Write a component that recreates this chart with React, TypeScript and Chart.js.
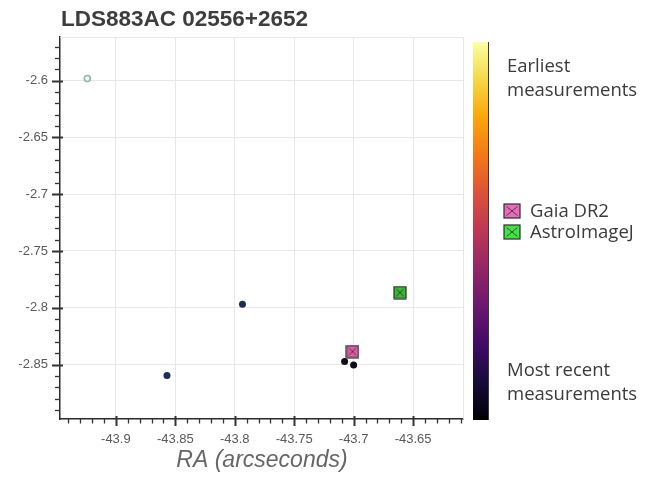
import { useEffect, useRef } from "react";
import { Chart, registerables } from "chart.js";

Chart.register(...registerables);

// ---- data (arcseconds) ----
const raEarliest = [-43.924];
const decEarliest = [-2.598];
const raMiddle = [-43.857, -43.7935];
const decMiddle = [-2.8597, -2.797];
const raRecent = [-43.7076, -43.7];
const decRecent = [-2.8474, -2.8505];
const raGaia = [-43.701];
const decGaia = [-2.8386];
const raAIJ = [-43.661];
const decAIJ = [-2.7866];

// ---- axes ----
const xMin = -43.947;
const xMax = -43.608;
const yMin = -2.898;
const yMax = -2.5615;
const majorStep = 0.05;
const minorStep = 0.01;

// ---- texts ----
const titleText = "LDS883AC 02556+2652";
const xTitle = "RA (arcseconds)";
const legendLabels = ["Gaia DR2", "AstroImageJ"];
const markerColors = ["#dc5ea3", "#33bb33"];
const legendColors = ["#e86cbc", "#45e445"];
const topLabel = ["Earliest", "measurements"];
const bottomLabel = ["Most recent", "measurements"];

// inferno colormap stops (bottom -> top)
const infernoStops = [
  "#000004", "#160b39", "#420a68", "#6a176e", "#932667", "#bc3754",
  "#dd513a", "#f37819", "#fca50a", "#f6d746", "#fcffa4",
];

const pts = (xs: number[], ys: number[]) => xs.map((x, i) => ({ x, y: ys[i] }));

function makeBoxX(fill: string, w: number, h: number): HTMLCanvasElement {
  const c = document.createElement("canvas");
  c.width = w;
  c.height = h;
  const g = c.getContext("2d")!;
  g.fillStyle = fill;
  g.fillRect(1, 1, w - 2, h - 2);
  g.strokeStyle = "#2b2b2b";
  g.lineWidth = 1.2;
  g.strokeRect(1, 1, w - 2, h - 2);
  g.beginPath();
  g.moveTo(3.5, 3.5);
  g.lineTo(w - 3.5, h - 3.5);
  g.moveTo(w - 3.5, 3.5);
  g.lineTo(3.5, h - 3.5);
  g.strokeStyle = "rgba(40,40,40,0.75)";
  g.lineWidth = 1;
  g.stroke();
  return c;
}

const fmt = (v: number) => String(Number(v.toFixed(2)));

export default function App() {
  const ref = useRef<HTMLCanvasElement>(null);

  useEffect(() => {
    document.body.style.margin = "0";
    const gaiaImg = makeBoxX(markerColors[0], 14, 14);
    const aijImg = makeBoxX(markerColors[1], 14, 14);

    const deco = {
      id: "deco",
      afterDraw(chart: any) {
        const ctx = chart.ctx as CanvasRenderingContext2D;
        const a = chart.chartArea;
        const xs = chart.scales.x;
        const ys = chart.scales.y;
        ctx.save();

        // faint frame top/right
        ctx.strokeStyle = "#e6e6e6";
        ctx.lineWidth = 1;
        ctx.beginPath();
        ctx.moveTo(a.left, a.top + 0.5);
        ctx.lineTo(a.right + 0.5, a.top + 0.5);
        ctx.lineTo(a.right + 0.5, a.bottom);
        ctx.stroke();

        // ticks
        ctx.strokeStyle = "#333";
        const k0 = Math.ceil(xs.min / minorStep - 1e-6);
        const k1 = Math.floor(xs.max / minorStep + 1e-6);
        for (let k = k0; k <= k1; k++) {
          const major = Math.abs(k % 5) === 0;
          const px = Math.round(xs.getPixelForValue(k * minorStep)) + 0.5;
          ctx.lineWidth = major ? 2 : 1.3;
          ctx.beginPath();
          ctx.moveTo(px, a.bottom - (major ? 3 : 0));
          ctx.lineTo(px, a.bottom + (major ? 7 : 4.5));
          ctx.stroke();
        }
        const j0 = Math.ceil(ys.min / minorStep - 1e-6);
        const j1 = Math.floor(ys.max / minorStep + 1e-6);
        for (let k = j0; k <= j1; k++) {
          const major = Math.abs(k % 5) === 0;
          const py = Math.round(ys.getPixelForValue(k * minorStep)) + 0.5;
          ctx.lineWidth = major ? 2 : 1.3;
          ctx.beginPath();
          ctx.moveTo(a.left + (major ? 3 : 0), py);
          ctx.lineTo(a.left - (major ? 8 : 5), py);
          ctx.stroke();
        }

        // title
        ctx.fillStyle = "#3d3d3d";
        ctx.font = 'bold 22.5px "Liberation Sans", Arial, sans-serif';
        ctx.textAlign = "left";
        ctx.textBaseline = "alphabetic";
        ctx.fillText(titleText, 61, 26);

        // x title
        ctx.fillStyle = "#666";
        ctx.font = 'italic 23px "Liberation Sans", Arial, sans-serif';
        ctx.textAlign = "center";
        ctx.fillText(xTitle, 262, 467);

        // colorbar
        const cbX = 473, cbW = 15, cbTop = 42, cbBot = 420;
        const grad = ctx.createLinearGradient(0, cbBot, 0, cbTop);
        infernoStops.forEach((c, i) => grad.addColorStop(i / (infernoStops.length - 1), c));
        ctx.fillStyle = grad;
        ctx.fillRect(cbX, cbTop, cbW, cbBot - cbTop);
        ctx.strokeStyle = "#3a3a3a";
        ctx.lineWidth = 1;
        ctx.beginPath();
        ctx.moveTo(cbX + cbW + 0.5, cbTop);
        ctx.lineTo(cbX + cbW + 0.5, cbBot);
        ctx.stroke();

        // side texts
        ctx.fillStyle = "#3a3a3a";
        ctx.font = '18.5px "Open Sans", sans-serif';
        ctx.textAlign = "left";
        ctx.fillText(topLabel[0], 507, 72);
        ctx.fillText(topLabel[1], 507, 96);
        ctx.fillText(bottomLabel[0], 507, 376);
        ctx.fillText(bottomLabel[1], 507, 400);

        // legend
        const legImgs = [makeBoxX(legendColors[0], 18, 16), makeBoxX(legendColors[1], 18, 16)];
        legendLabels.forEach((t, i) => {
          const cy = 211 + i * 21;
          ctx.drawImage(legImgs[i], 503, cy - 8);
          ctx.fillText(t, 530, cy + 6);
        });

        ctx.restore();
      },
    };

    const chart = new Chart(ref.current!, {
      type: "scatter",
      data: {
        datasets: [
          {
            label: "earliest",
            data: pts(raEarliest, decEarliest),
            pointRadius: 3,
            pointBorderWidth: 1.6,
            pointBackgroundColor: "#ffffff",
            pointBorderColor: "#8fb3a6",
          },
          {
            label: "middle",
            data: pts(raMiddle, decMiddle),
            pointRadius: 3.5,
            pointBorderWidth: 0,
            pointBackgroundColor: "#1d2b5c",
            pointBorderColor: "#1d2b5c",
          },
          {
            label: "recent",
            data: pts(raRecent, decRecent),
            pointRadius: 3.5,
            pointBorderWidth: 0,
            pointBackgroundColor: "#0e0e18",
            pointBorderColor: "#0e0e18",
          },
          {
            label: legendLabels[0],
            data: pts(raGaia, decGaia),
            pointStyle: gaiaImg as any,
            pointRadius: 7,
          },
          {
            label: legendLabels[1],
            data: pts(raAIJ, decAIJ),
            pointStyle: aijImg as any,
            pointRadius: 7,
          },
        ],
      },
      options: {
        responsive: false,
        animation: false,
        layout: { padding: { left: 0, top: 37, right: 187, bottom: 0 } },
        plugins: { legend: { display: false }, tooltip: { enabled: false } },
        scales: {
          x: {
            type: "linear",
            min: xMin,
            max: xMax,
            afterFit: (s: any) => { s.height = 60; },
            border: { display: true, color: "#2a2a2a", width: 1.5 },
            grid: { color: "#e8e8e8", lineWidth: 1, drawTicks: false },
            ticks: {
              stepSize: majorStep,
              includeBounds: false,
              autoSkip: false,
              maxRotation: 0,
              padding: 13,
              color: "#5a5a5a",
              font: { family: '"Liberation Sans", Arial, sans-serif', size: 13 },
              callback: (v: any) => fmt(Number(v)),
            },
          },
          y: {
            type: "linear",
            min: yMin,
            max: yMax,
            afterFit: (s: any) => { s.width = 60; },
            border: { display: true, color: "#2a2a2a", width: 1.5 },
            grid: { color: "#e8e8e8", lineWidth: 1, drawTicks: false },
            ticks: {
              stepSize: majorStep,
              includeBounds: false,
              autoSkip: false,
              padding: 12,
              color: "#5a5a5a",
              font: { family: '"Liberation Sans", Arial, sans-serif', size: 13 },
              callback: (v: any) => fmt(Number(v)),
            },
          },
        },
      },
      plugins: [deco],
    });
    return () => chart.destroy();
  }, []);

  return (
    <canvas
      ref={ref}
      width={650}
      height={479}
      style={{ position: "absolute", left: 0, top: 0, width: 650, height: 479 }}
    />
  );
}
